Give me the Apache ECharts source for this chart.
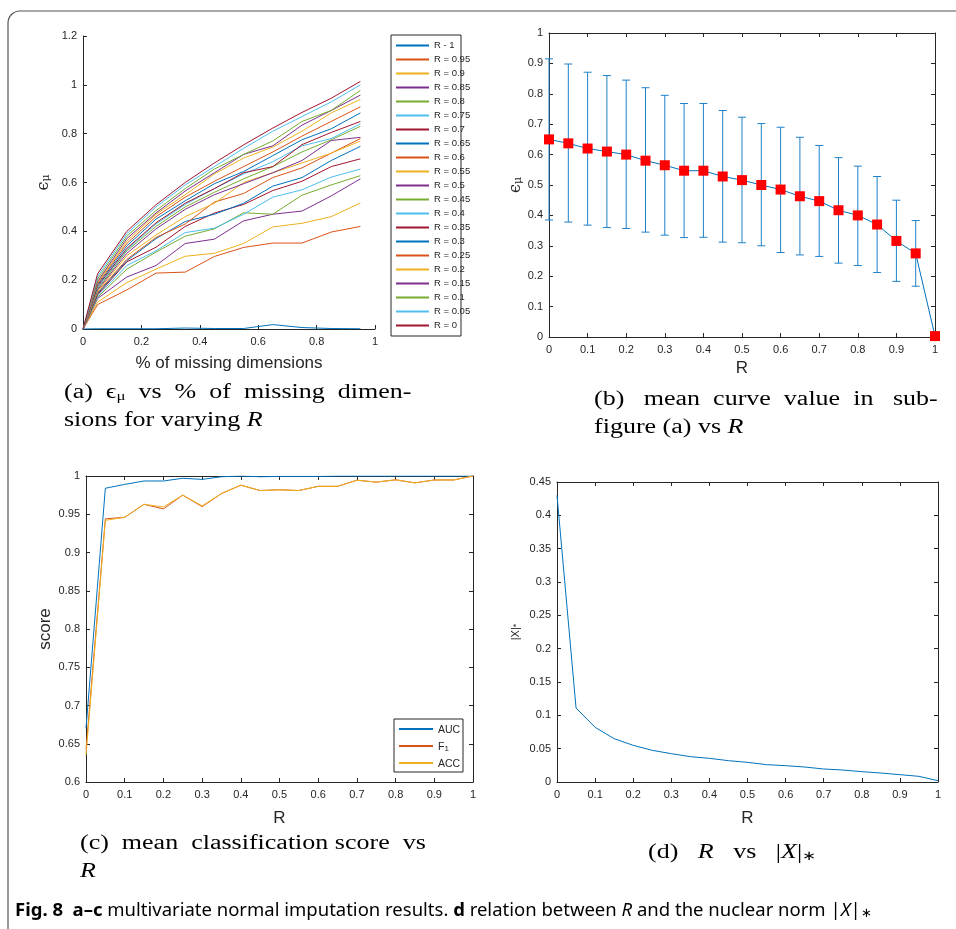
<!DOCTYPE html>
<html>
<head>
<meta charset="utf-8">
<script src="https://cdn.jsdelivr.net/npm/echarts/dist/echarts.min.js"></script>
<style>
  html, body { margin: 0; padding: 0; background: #fff; }
  #chart { width: 956px; height: 929px; }
</style>
</head>
<body>
<div id="chart"></div>
<script>
// ---- (a) error vs % of missing dimensions, one curve per R ----
const missingPct = [0, 0.05, 0.15, 0.25, 0.35, 0.45, 0.55, 0.65, 0.75, 0.85, 0.95];
const r100 = [0, 0.001, 0.001, 0.001, 0.004, 0.002, 0.002, 0.018, 0.006, 0.002, 0.001];
const r095 = [0, 0.100, 0.160, 0.229, 0.233, 0.297, 0.334, 0.352, 0.352, 0.397, 0.420];
const r090 = [0, 0.110, 0.190, 0.245, 0.298, 0.310, 0.350, 0.418, 0.433, 0.460, 0.516];
const r085 = [0, 0.125, 0.213, 0.260, 0.350, 0.368, 0.443, 0.470, 0.483, 0.545, 0.615];
const r080 = [0, 0.130, 0.245, 0.315, 0.380, 0.410, 0.476, 0.470, 0.548, 0.590, 0.628];
const r075 = [0, 0.135, 0.260, 0.320, 0.395, 0.413, 0.470, 0.540, 0.570, 0.622, 0.655];
const r070 = [0, 0.140, 0.275, 0.335, 0.420, 0.475, 0.510, 0.567, 0.605, 0.665, 0.697];
const r065 = [0, 0.145, 0.280, 0.370, 0.440, 0.470, 0.515, 0.585, 0.620, 0.690, 0.748];
const r060 = [0, 0.150, 0.285, 0.375, 0.430, 0.520, 0.555, 0.620, 0.660, 0.720, 0.780];
const r055 = [0, 0.155, 0.300, 0.385, 0.460, 0.515, 0.600, 0.640, 0.680, 0.720, 0.770];
const r050 = [0, 0.160, 0.310, 0.410, 0.490, 0.550, 0.595, 0.640, 0.690, 0.772, 0.785];
const r045 = [0, 0.165, 0.320, 0.420, 0.500, 0.560, 0.615, 0.665, 0.725, 0.775, 0.830];
const r040 = [0, 0.170, 0.325, 0.430, 0.510, 0.575, 0.635, 0.685, 0.750, 0.780, 0.840];
const r035 = [0, 0.175, 0.330, 0.435, 0.515, 0.575, 0.640, 0.665, 0.755, 0.805, 0.850];
const r030 = [0, 0.180, 0.340, 0.450, 0.525, 0.595, 0.645, 0.710, 0.775, 0.820, 0.885];
const r025 = [0, 0.185, 0.350, 0.460, 0.540, 0.605, 0.665, 0.725, 0.790, 0.850, 0.910];
const r020 = [0, 0.190, 0.360, 0.470, 0.550, 0.635, 0.700, 0.745, 0.810, 0.885, 0.940];
const r015 = [0, 0.195, 0.370, 0.475, 0.565, 0.640, 0.715, 0.750, 0.835, 0.895, 0.958];
const r010 = [0, 0.205, 0.380, 0.485, 0.575, 0.655, 0.715, 0.770, 0.850, 0.895, 0.977];
const r005 = [0, 0.215, 0.390, 0.500, 0.590, 0.665, 0.740, 0.810, 0.870, 0.930, 1.000];
const r000 = [0, 0.226, 0.400, 0.509, 0.600, 0.680, 0.754, 0.823, 0.887, 0.945, 1.014];
const curveNames = ['R - 1', 'R = 0.95', 'R = 0.9', 'R = 0.85', 'R = 0.8', 'R = 0.75', 'R = 0.7',
  'R = 0.65', 'R = 0.6', 'R = 0.55', 'R = 0.5', 'R = 0.45', 'R = 0.4', 'R = 0.35', 'R = 0.3',
  'R = 0.25', 'R = 0.2', 'R = 0.15', 'R = 0.1', 'R = 0.05', 'R = 0'];
const curves = [r100, r095, r090, r085, r080, r075, r070, r065, r060, r055, r050,
  r045, r040, r035, r030, r025, r020, r015, r010, r005, r000];

// ---- (b) mean curve value vs R, with spread ----
const rValues = [0, 0.05, 0.1, 0.15, 0.2, 0.25, 0.3, 0.35, 0.4, 0.45, 0.5,
  0.55, 0.6, 0.65, 0.7, 0.75, 0.8, 0.85, 0.9, 0.95, 1];
const meanCurve = [0.65, 0.637, 0.62, 0.61, 0.60, 0.58, 0.565, 0.547, 0.547, 0.528, 0.516,
  0.50, 0.485, 0.463, 0.447, 0.417, 0.40, 0.37, 0.316, 0.275, 0.003];
const errUpper = [0.915, 0.898, 0.871, 0.86, 0.845, 0.82, 0.795, 0.768, 0.768, 0.745, 0.723,
  0.702, 0.69, 0.657, 0.63, 0.59, 0.562, 0.528, 0.45, 0.383, 0.006];
const errLower = [0.385, 0.378, 0.368, 0.36, 0.357, 0.345, 0.335, 0.327, 0.328, 0.312, 0.31,
  0.30, 0.278, 0.27, 0.265, 0.243, 0.235, 0.212, 0.183, 0.167, 0.0];

// ---- (c) classification scores vs R ----
const aucScore = [0.67, 0.984, 0.989, 0.9935, 0.9935, 0.997, 0.9956, 0.999, 1.0, 0.999, 0.9995,
  0.9995, 0.9995, 1, 1, 1, 1, 1, 1, 1, 1];
const f1Score = [0.642, 0.944, 0.946, 0.963, 0.957, 0.975, 0.96, 0.977, 0.988, 0.981, 0.982,
  0.981, 0.9865, 0.9865, 0.9945, 0.992, 0.995, 0.991, 0.9948, 0.9948, 1.0];
const accScore = [0.635, 0.942, 0.946, 0.963, 0.9595, 0.975, 0.961, 0.977, 0.988, 0.981, 0.982,
  0.981, 0.9865, 0.9865, 0.9945, 0.992, 0.995, 0.991, 0.9948, 0.9948, 1.0];

// ---- (d) nuclear norm vs R ----
const nuclearNorm = [0.43, 0.111, 0.082, 0.065, 0.055, 0.0475, 0.0425, 0.038, 0.0355, 0.032, 0.0295,
  0.026, 0.0245, 0.0225, 0.0195, 0.018, 0.0155, 0.0135, 0.011, 0.0085, 0.002];

const matlabColors = ['#0072BD', '#D95319', '#EDB120', '#7E2F8E', '#77AC30', '#4DBEEE', '#A2142F'];
const sans = 'Liberation Sans, Arial, sans-serif';
const serif = 'Liberation Serif, serif';
const ink = '#262626';

const fmt = v => String(+v.toFixed(2));

// axis helper: pos = bottom/top/left/right
function axis(gridIndex, pos, min, max, interval, withLabels, extra) {
  return Object.assign({
    type: 'value', gridIndex, position: pos, min, max, interval,
    axisLine: { show: true, onZero: false, lineStyle: { color: ink, width: 1 } },
    axisTick: { show: true, inside: true, length: 4, lineStyle: { color: ink } },
    axisLabel: { show: withLabels, formatter: fmt, color: ink, fontSize: 11, fontFamily: sans,
      margin: (pos === 'bottom') ? 7 : 6 },
    splitLine: { show: false }
  }, extra || {});
}

const xName = (text, gap, size) => ({
  name: text, nameLocation: 'middle', nameGap: gap,
  nameTextStyle: { color: ink, fontSize: size, fontFamily: sans }
});
const epsName = gap => ({
  name: '{e|ϵ}{m|μ}', nameLocation: 'middle', nameGap: gap,
  nameTextStyle: {
    rich: {
      e: { fontSize: 16, fontFamily: 'DejaVu Serif', color: ink, verticalAlign: 'bottom', lineHeight: 20 },
      m: { fontSize: 11, fontFamily: 'DejaVu Serif', color: ink, verticalAlign: 'bottom', lineHeight: 11 }
    }
  }
});

const xAxes = [
  axis(0, 'bottom', 0, 1, 0.2, true, xName('% of missing dimensions', 26, 17)),
  axis(1, 'bottom', 0, 1, 0.1, true, xName('R', 23, 17)),
  axis(1, 'top', 0, 1, 0.1, false),
  axis(2, 'bottom', 0, 1, 0.1, true, xName('R', 28, 17)),
  axis(2, 'top', 0, 1, 0.1, false),
  axis(3, 'bottom', 0, 1, 0.1, true, xName('R', 28, 17)),
  axis(3, 'top', 0, 1, 0.1, false)
];
const yAxes = [
  axis(0, 'left', 0, 1.2, 0.2, true, epsName(31)),
  axis(1, 'left', 0, 1, 0.1, true, epsName(24)),
  axis(1, 'right', 0, 1, 0.1, false),
  axis(2, 'left', 0.6, 1, 0.05, true, {
    name: 'score', nameLocation: 'middle', nameGap: 32,
    nameTextStyle: { color: ink, fontSize: 17, fontFamily: sans }
  }),
  axis(2, 'right', 0.6, 1, 0.05, false),
  axis(3, 'left', 0, 0.45, 0.05, true, {
    name: '{a||X|}{s|*}', nameLocation: 'middle', nameGap: 36,
    nameTextStyle: {
      rich: {
        a: { fontSize: 11, fontFamily: sans, color: ink, verticalAlign: 'bottom', lineHeight: 14 },
        s: { fontSize: 9, fontFamily: sans, color: ink, verticalAlign: 'bottom', lineHeight: 9 }
      }
    }
  }),
  axis(3, 'right', 0, 0.45, 0.05, false)
];

const pairs = (xs, ys) => xs.map((x, i) => [x, ys[i]]);
const thinLine = (name, color, data, xi, yi) => ({
  type: 'line', name, data, xAxisIndex: xi, yAxisIndex: yi,
  showSymbol: false, color, lineStyle: { width: 1, color }, z: 3
});

const series = [];
curves.forEach((c, i) => {
  series.push(thinLine(curveNames[i], matlabColors[i % 7], pairs(missingPct, c), 0, 0));
});

// (b) error bars drawn through the axis scale
series.push({
  type: 'custom', name: 'spread', xAxisIndex: 1, yAxisIndex: 1, z: 2,
  data: rValues.map((r, i) => [r, errLower[i], errUpper[i]]),
  encode: { x: 0, y: [1, 2] },
  renderItem: (params, api) => {
    const lo = api.coord([api.value(0), api.value(1)]);
    const hi = api.coord([api.value(0), api.value(2)]);
    const w = 4;
    const st = { stroke: '#1f80c8', lineWidth: 1 };
    return {
      type: 'group', children: [
        { type: 'line', shape: { x1: lo[0], y1: lo[1], x2: hi[0], y2: hi[1] }, style: st },
        { type: 'line', shape: { x1: lo[0] - w, y1: lo[1], x2: lo[0] + w, y2: lo[1] }, style: st },
        { type: 'line', shape: { x1: hi[0] - w, y1: hi[1], x2: hi[0] + w, y2: hi[1] }, style: st }
      ]
    };
  }
});
series.push({
  type: 'line', name: 'mean', xAxisIndex: 1, yAxisIndex: 1, z: 4,
  data: pairs(rValues, meanCurve),
  symbol: 'rect', symbolSize: 10, showAllSymbol: true,
  lineStyle: { color: '#0072BD', width: 1 },
  itemStyle: { color: '#FF0000' }
});

// (c)
series.push(thinLine('AUC', '#0072BD', pairs(rValues, aucScore), 3, 3));
series.push(thinLine('F1', '#D95319', pairs(rValues, f1Score), 3, 3));
series.push(thinLine('ACC', '#EDB120', pairs(rValues, accScore), 3, 3));

// (d)
series.push(thinLine('nuclear', '#0072BD', pairs(rValues, nuclearNorm), 5, 5));

// captions (serif, stretched sideways like the LaTeX original)
const capRich = {
  n: { fontSize: 20, fontFamily: serif, color: '#111', verticalAlign: 'bottom', lineHeight: 28 },
  i: { fontSize: 20, fontFamily: serif, fontStyle: 'italic', color: '#111', verticalAlign: 'bottom', lineHeight: 28 },
  s: { fontSize: 13, fontFamily: serif, color: '#111', verticalAlign: 'bottom', lineHeight: 17 }
};
const caption = (x, y, text) => ({
  type: 'text', left: x, top: y, z: 10, scaleX: 1.3,
  style: { text, rich: capRich }
});
const figRich = {
  b: { fontSize: 18.5, fontFamily: 'Noto Sans', fontWeight: 'bold', color: '#111', verticalAlign: 'bottom', lineHeight: 22 },
  n: { fontSize: 18.5, fontFamily: 'Noto Sans', color: '#111', verticalAlign: 'bottom', lineHeight: 22 },
  i: { fontSize: 18.5, fontFamily: 'Noto Sans', fontStyle: 'italic', color: '#111', verticalAlign: 'bottom', lineHeight: 22 },
  s: { fontSize: 13, fontFamily: 'Noto Sans', color: '#111', verticalAlign: 'bottom', lineHeight: 13 }
};

const chart = echarts.init(document.getElementById('chart'));
chart.setOption({
  animation: false,
  backgroundColor: '#fff',
  grid: [
    { left: 83, top: 36, width: 292, height: 293 },
    { left: 549, top: 33, width: 386, height: 304 },
    { left: 86, top: 476, width: 387, height: 306 },
    { left: 557, top: 482, width: 381, height: 300 }
  ],
  xAxis: xAxes,
  yAxis: yAxes,
  legend: [
    {
      data: curveNames, orient: 'vertical', left: 396, top: 39.5, padding: 0, z: 6,
      itemWidth: 33, itemHeight: 2, itemGap: 2, icon: 'rect', selectedMode: false,
      textStyle: { fontSize: 9.5, lineHeight: 12, color: ink, fontFamily: sans }
    },
    {
      data: ['AUC', 'F1', 'ACC'], orient: 'vertical', left: 399, top: 722, padding: 0, z: 6,
      itemWidth: 34, itemHeight: 2, itemGap: 3, icon: 'rect', selectedMode: false,
      formatter: n => n === 'F1' ? '{t|F}{s|1}' : '{t|' + n + '}',
      textStyle: {
        color: ink, fontFamily: sans, fontSize: 10.5, lineHeight: 14,
        rich: {
          t: { fontSize: 10.5, fontFamily: sans, color: ink, verticalAlign: 'bottom', lineHeight: 14 },
          s: { fontSize: 8, fontFamily: sans, color: ink, verticalAlign: 'bottom', lineHeight: 8 }
        }
      }
    }
  ],
  graphic: [
    { type: 'rect', shape: { x: 8, y: 11, width: 1100, height: 1100, r: 12 }, z: 0,
      style: { fill: 'none', stroke: '#555', lineWidth: 1.2 } },
    { type: 'rect', shape: { x: 391, y: 35, width: 70, height: 301 }, z: 1,
      style: { fill: '#fff', stroke: ink, lineWidth: 1 } },
    { type: 'rect', shape: { x: 394, y: 719, width: 69, height: 53 }, z: 1,
      style: { fill: '#fff', stroke: ink, lineWidth: 1 } },
    caption(64, 383, '{n|(a)  ϵ}{s|μ}{n|  vs  %  of  missing  dimen-}\n{n|sions for varying }{i|R}'),
    caption(594, 390, '{n|(b)   mean  curve  value  in   sub-}\n{n|figure (a) vs }{i|R}'),
    caption(80, 834, '{n|(c)  mean  classification score  vs}\n{i|R}'),
    caption(648, 843, '{n|(d)   }{i|R}{n|   vs   |}{i|X}{n||}{s|∗}'),
    { type: 'text', left: 15, top: 901, z: 10,
      style: { rich: figRich,
        text: '{b|Fig. 8}{n|  }{b|a–c}{n| multivariate normal imputation results. }{b|d}{n| relation between }{i|R}{n| and the nuclear norm |}{i|X}{n||}{s|∗}' } }
  ],
  series
});
</script>
</body>
</html>
